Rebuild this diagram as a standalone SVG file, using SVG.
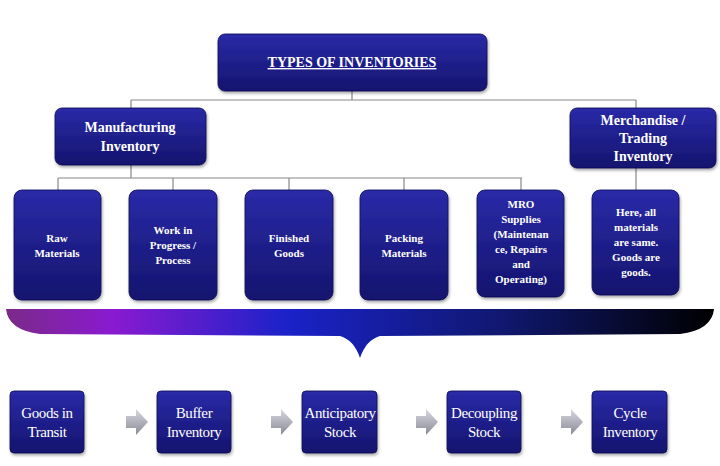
<svg xmlns="http://www.w3.org/2000/svg" width="720" height="466" viewBox="0 0 720 466">
<defs>
<linearGradient id="bx" x1="0" y1="0" x2="0" y2="1"><stop offset="0" stop-color="#2a2aa8"/><stop offset="1" stop-color="#14146e"/></linearGradient>
<linearGradient id="br" x1="0" y1="0" x2="1" y2="0"><stop offset="0" stop-color="#7a2a88"/><stop offset="0.15" stop-color="#8a1ad0"/><stop offset="0.4" stop-color="#1a22c8"/><stop offset="0.7" stop-color="#101870"/><stop offset="1" stop-color="#000"/></linearGradient>
<linearGradient id="ar" x1="0" y1="0" x2="0" y2="1"><stop offset="0" stop-color="#d8d8e0"/><stop offset="1" stop-color="#8a8a98"/></linearGradient>
<filter id="sh" x="-10%" y="-10%" width="130%" height="130%"><feDropShadow dx="1" dy="2" stdDeviation="1.5" flood-opacity="0.35"/></filter>
</defs>
<style>
.b{fill:url(#bx);stroke:#0e0e50;stroke-width:0.8;filter:url(#sh)}
.t{fill:#fff;font-family:"Liberation Serif",serif;text-anchor:middle;font-weight:bold}
.s{font-size:11px}
.m{font-size:14px}
.l{font-size:15px;font-weight:normal;letter-spacing:-0.4px}
.c{fill:none;stroke:#888;stroke-width:1.2}
.a{fill:url(#ar)}
</style>
<rect width="720" height="466" fill="#fff"/>
<g id="connectors">
<path class="c" d="M352 91V100M131 100H636M131 100V108M636 100V108M131 165V178M58 178H522M58 178V190M173 178V190M289 178V190M404 178V190M521 178V190M636 168V190"/>
<path class="a" d="M126 416h10v-7l12 13-12 13v-7h-10z"/>
<path class="a" d="M271 416h10v-7l12 13-12 13v-7h-10z"/>
<path class="a" d="M416 416h10v-7l12 13-12 13v-7h-10z"/>
<path class="a" d="M561 416h10v-7l12 13-12 13v-7h-10z"/>
</g>
<g id="brace"><path fill="url(#br)" d="M6 309 L714 309 Q712 330 680 334 L380 336 Q366 340 360 358 Q354 340 340 336 L40 334 Q8 330 6 309Z"/></g>
<g id="top"><rect class="b" x="218" y="34" width="269" height="57" rx="7"/><text class="t m" x="352" y="67" text-decoration="underline">TYPES OF INVENTORIES</text></g>
<g id="mfg"><rect class="b" x="55" y="108" width="151" height="57" rx="7"/><text class="t m"><tspan x="130" y="132">Manufacturing</tspan><tspan x="130" y="151">Inventory</tspan></text></g>
<g id="merch"><rect class="b" x="570" y="108" width="146" height="60" rx="7"/><text class="t m"><tspan x="643" y="125">Merchandise /</tspan><tspan x="643" y="143">Trading</tspan><tspan x="643" y="161">Inventory</tspan></text></g>
<g id="raw"><rect class="b" x="14" y="190" width="87" height="110" rx="8"/><text class="t s"><tspan x="57" y="242">Raw</tspan><tspan x="57" y="257">Materials</tspan></text></g>
<g id="wip"><rect class="b" x="129" y="190" width="88" height="110" rx="8"/><text class="t s"><tspan x="173" y="234">Work in</tspan><tspan x="173" y="249">Progress /</tspan><tspan x="173" y="264">Process</tspan></text></g>
<g id="fin"><rect class="b" x="245" y="190" width="88" height="110" rx="8"/><text class="t s"><tspan x="289" y="242">Finished</tspan><tspan x="289" y="257">Goods</tspan></text></g>
<g id="pack"><rect class="b" x="360" y="190" width="88" height="110" rx="8"/><text class="t s"><tspan x="404" y="242">Packing</tspan><tspan x="404" y="257">Materials</tspan></text></g>
<g id="mro"><rect class="b" x="477" y="190" width="87" height="107" rx="8"/><text class="t s"><tspan x="521" y="208">MRO</tspan><tspan x="521" y="223">Supplies</tspan><tspan x="521" y="238">(Maintenan</tspan><tspan x="521" y="253">ce, Repairs</tspan><tspan x="521" y="268">and</tspan><tspan x="521" y="283">Operating)</tspan></text></g>
<g id="here"><rect class="b" x="592" y="190" width="87" height="105" rx="8"/><text class="t s"><tspan x="636" y="216">Here, all</tspan><tspan x="636" y="231">materials</tspan><tspan x="636" y="246">are same.</tspan><tspan x="636" y="261">Goods are</tspan><tspan x="636" y="276">goods.</tspan></text></g>
<g id="git"><rect class="b" x="10" y="391" width="74" height="62" rx="4"/><text class="t l"><tspan x="47" y="418">Goods in</tspan><tspan x="47" y="437">Transit</tspan></text></g>
<g id="buf"><rect class="b" x="157" y="391" width="74" height="62" rx="4"/><text class="t l"><tspan x="194" y="418">Buffer</tspan><tspan x="194" y="437">Inventory</tspan></text></g>
<g id="ant"><rect class="b" x="302" y="391" width="75" height="62" rx="4"/><text class="t l"><tspan x="340" y="418">Anticipatory</tspan><tspan x="340" y="437">Stock</tspan></text></g>
<g id="dec"><rect class="b" x="447" y="391" width="74" height="62" rx="4"/><text class="t l"><tspan x="484" y="418">Decoupling</tspan><tspan x="484" y="437">Stock</tspan></text></g>
<g id="cyc"><rect class="b" x="592" y="391" width="75" height="62" rx="4"/><text class="t l"><tspan x="630" y="418">Cycle</tspan><tspan x="630" y="437">Inventory</tspan></text></g>
</svg>
